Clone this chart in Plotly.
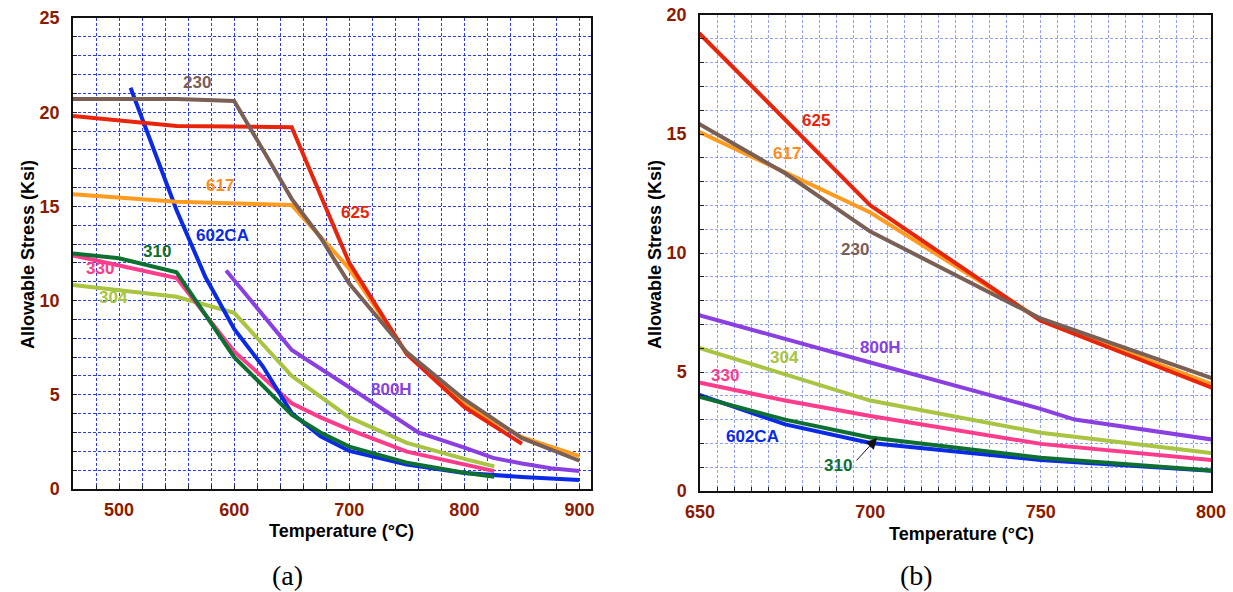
import plotly.graph_objects as go

# ---------------- data (temperature °C, allowable stress ksi) ----------------
T_230 = [460, 550, 600, 650, 675, 700, 750, 800, 850, 900]
S_230 = [20.7, 20.7, 20.6, 15.4, 13.35, 10.9, 7.25, 4.75, 2.7, 1.5]

T_625 = [460, 550, 650, 700, 750, 800, 850]
S_625 = [19.8, 19.27, 19.2, 12.0, 7.15, 4.35, 2.4]

T_617 = [460, 550, 650, 700, 750, 800, 850, 900]
S_617 = [15.65, 15.25, 15.07, 11.7, 7.2, 4.5, 2.75, 1.75]

T_602CA = [510, 525, 550, 575, 600, 625, 650, 675, 700, 750, 800, 850, 900]
S_602CA = [21.3, 18.9, 14.8, 11.25, 8.5, 6.5, 4.03, 2.8, 2.02, 1.3, 0.85, 0.64, 0.48]

T_310 = [460, 500, 550, 600, 650, 675, 700, 750, 800, 826]
S_310 = [12.5, 12.25, 11.5, 7.0, 3.95, 3.0, 2.25, 1.4, 0.86, 0.65]

T_330 = [460, 550, 600, 650, 675, 700, 750, 800, 826]
S_330 = [12.4, 11.2, 7.3, 4.55, 3.8, 3.15, 1.98, 1.3, 0.95]

T_304 = [460, 550, 600, 650, 700, 750, 800, 826]
S_304 = [10.83, 10.2, 9.35, 6.0, 3.8, 2.45, 1.6, 1.2]

T_800H = [593, 650, 700, 750, 760, 800, 825, 850, 875, 900]
S_800H = [11.6, 7.38, 5.4, 3.45, 3.0, 2.2, 1.65, 1.35, 1.1, 0.96]

alloys = ["800H", "304", "330", "602CA", "310", "617", "625", "230"]
series = {
    "230": (T_230, S_230), "625": (T_625, S_625), "617": (T_617, S_617),
    "602CA": (T_602CA, S_602CA), "310": (T_310, S_310), "330": (T_330, S_330),
    "304": (T_304, S_304), "800H": (T_800H, S_800H),
}
colors = {
    "230": "#7a5f55", "625": "#e8250a", "617": "#ff9c1f", "602CA": "#0a2ae6",
    "310": "#0d7030", "330": "#ff3c8c", "304": "#a8c440", "800H": "#8a40e0",
}
label_colors = dict(colors, **{"617": "#ff8c1a"})

# label positions (data coords) for panel (a) and panel (b)
labels_a = {"230": (568, 21.55), "617": (588, 16.1), "625": (705, 14.65),
            "602CA": (590, 13.43), "310": (533, 12.63), "330": (483.5, 11.68),
            "304": (495, 10.19), "800H": (737, 5.3)}
labels_b = {"625": (684, 15.55), "617": (675.5, 14.16), "230": (695.5, 10.13),
            "800H": (703, 6.05), "304": (674.7, 5.59), "330": (657.3, 4.87),
            "602CA": (665.3, 2.27), "310": (690.5, 1.09)}

W, H = 1233, 592


def PX(x):
    return x / W


def PY(y):
    return 1 - y / H


fig = go.Figure()
for name in alloys:
    t, s = series[name]
    for xa, ya in (("x", "y"), ("x2", "y2")):
        fig.add_trace(go.Scatter(x=t, y=s, mode="lines", xaxis=xa, yaxis=ya,
                                 line=dict(color=colors[name], width=4),
                                 showlegend=False, hoverinfo="skip"))

tickfont = dict(family="Arial", size=18, color="#8b1a00", weight="bold")


def axis(domain, rng, dtick, minor_dtick, gridcolor, griddash, standoff, **kw):
    return dict(domain=domain, range=rng, tickmode="linear", tick0=0, dtick=dtick,
                automargin=False,
                ticks="inside", ticklen=4, tickwidth=1.2, tickcolor="#222",
                showline=True, linecolor="#111", linewidth=1.5, mirror=True,
                showgrid=True, gridcolor=gridcolor, gridwidth=1, griddash=griddash,
                zeroline=False, tickfont=tickfont, ticklabelstandoff=standoff,
                minor=dict(dtick=minor_dtick, tick0=0, ticks="inside", ticklen=4,
                           tickcolor="#222", showgrid=True, gridcolor=gridcolor,
                           gridwidth=1, griddash=griddash),
                **kw)


gA = "rgba(20,40,235,0.9)"
gB = "rgba(110,130,240,0.75)"
fig.update_layout(
    width=W, height=H, margin=dict(l=0, r=0, t=0, b=0, autoexpand=False),
    paper_bgcolor="white", plot_bgcolor="white",
    xaxis=axis([PX(73), PX(591)], [460, 910], 100, 20, gA, "3px,2px", 4, anchor="y"),
    yaxis=axis([PY(489), PY(18)], [0, 25], 5, 1, gA, "3px,2px", 8, anchor="x"),
    xaxis2=axis([PX(700), PX(1211)], [650, 800], 50, 5, gB, "3px,2px", 4, anchor="y2"),
    yaxis2=axis([PY(491), PY(15)], [0, 20], 5, 1, gB, "3px,2px", 8, anchor="x2"),
)

ann = []
for name, (tx, sy) in labels_a.items():
    ann.append(dict(x=tx, y=sy, xref="x", yref="y", text=name, showarrow=False,
                    font=dict(family="Arial", size=17, color=label_colors[name], weight="bold")))
for name, (tx, sy) in labels_b.items():
    ann.append(dict(x=tx, y=sy, xref="x2", yref="y2", text=name, showarrow=False,
                    font=dict(family="Arial", size=17, color=label_colors[name], weight="bold")))

# arrow in panel (b)
ann.append(dict(x=702, y=2.23, xref="x2", yref="y2", text="", showarrow=True,
                arrowhead=2, arrowsize=2.2, arrowwidth=1, arrowcolor="#111",
                ax=-22, ay=24))

title_font = dict(family="Arial", size=18, color="black", weight="bold")
for cx, cy in ((341, 531), (961, 534)):
    ann.append(dict(x=PX(cx), y=PY(cy), xref="paper", yref="paper",
                    xanchor="center", yanchor="middle",
                    text="Temperature (°C)", showarrow=False, font=title_font))
for cx in (28, 655):
    ann.append(dict(x=PX(cx), y=PY(255), xref="paper", yref="paper",
                    xanchor="center", yanchor="middle",
                    text="Allowable Stress (Ksi)", showarrow=False, textangle=-90,
                    font=title_font))
for cx, txt in ((287, "(a)"), (916, "(b)")):
    ann.append(dict(x=PX(cx), y=PY(575), xref="paper", yref="paper", text=txt,
                    xanchor="center", yanchor="middle",
                    showarrow=False,
                    font=dict(family="Liberation Serif", size=28, color="black")))

fig.update_layout(annotations=ann)
fig.write_html("out.html", config={"displayModeBar": False},
               post_script="document.body.style.margin='0';document.body.style.overflow='hidden';")
